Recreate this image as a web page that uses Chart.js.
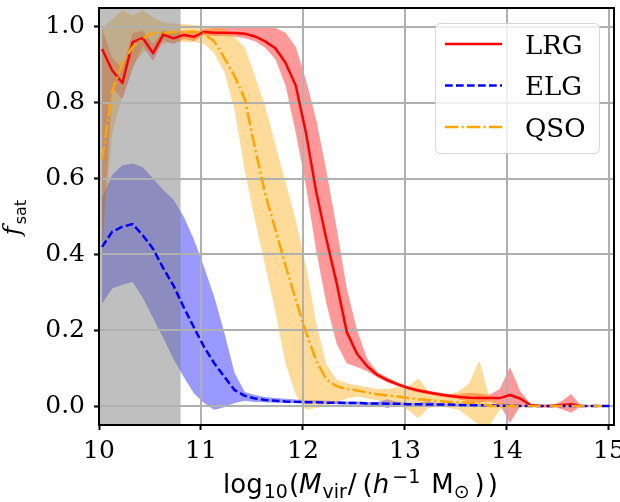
<!DOCTYPE html>
<html lang="en">
<head>
<meta charset="UTF-8">
<title>Satellite fraction vs halo mass</title>
<script src="https://cdn.jsdelivr.net/npm/chart.js"></script>
<style>
    body { margin: 0; background: #fff; }
</style>
</head>
<body>
<canvas id="fsatChart" width="620" height="502"></canvas>
<script>
// bin centres in log10(Mvir / (h^-1 Msun))
const massBins = [
    10.03, 10.13, 10.23, 10.33, 10.43, 10.53, 10.63, 10.73, 10.83, 10.93,
    11.03, 11.13, 11.23, 11.33, 11.43, 11.53, 11.63, 11.73, 11.83, 11.93,
    12.03, 12.13, 12.23, 12.33, 12.43, 12.53, 12.63, 12.73, 12.83, 12.93,
    13.03, 13.13, 13.23, 13.33, 13.43, 13.53, 13.63, 13.73, 13.83, 13.93,
    14.03, 14.13, 14.23, 14.33, 14.43, 14.53, 14.63, 14.73, 14.83, 14.93,
    15.03
];

// LRG: median and band
const lrgSat = [
    0.942, 0.885, 0.852, 0.960, 0.971, 0.931, 0.980, 0.970, 0.979, 0.974,
    0.987, 0.985, 0.985, 0.984, 0.982, 0.975, 0.962, 0.944, 0.905, 0.845,
    0.720, 0.565, 0.440, 0.325, 0.195, 0.138, 0.105, 0.082, 0.068, 0.057,
    0.048, 0.041, 0.036, 0.031, 0.027, 0.024, 0.022, 0.021, 0.021, 0.021,
    0.029, 0.020, 0.003, 0.000, 0.000, 0.003, 0.005, 0.000, null, null,
    null
];
const lrgLow = [
    0.40, 0.84, 0.81, 0.89, 0.95, 0.91, 0.965, 0.955, 0.968, 0.962,
    0.978, 0.976, 0.976, 0.974, 0.970, 0.962, 0.945, 0.915, 0.845, 0.72,
    0.58, 0.41, 0.27, 0.165, 0.112, 0.103, 0.092, 0.075, 0.062, 0.052,
    0.043, 0.036, 0.031, 0.026, 0.022, 0.018, 0.012, 0.010, 0.012, 0.005,
    -0.045, 0.000, 0.000, 0.000, 0.000, -0.008, -0.018, 0.000, null, null,
    null
];
const lrgHigh = [
    0.995, 0.92, 0.89, 0.985, 0.99, 0.955, 0.992, 0.985, 0.99, 0.985,
    0.995, 0.997, 0.997, 0.998, 0.998, 0.998, 0.998, 0.997, 0.985, 0.947,
    0.86, 0.755, 0.62, 0.47, 0.31, 0.20, 0.125, 0.09, 0.075, 0.063,
    0.053, 0.046, 0.041, 0.036, 0.032, 0.032, 0.035, 0.033, 0.030, 0.045,
    0.103, 0.040, 0.006, 0.000, 0.000, 0.012, 0.032, 0.000, null, null,
    null
];

// ELG
const elgSat = [
    0.42, 0.46, 0.473, 0.48, 0.45, 0.415, 0.364, 0.318, 0.261, 0.208,
    0.156, 0.113, 0.077, 0.042, 0.027, 0.020, 0.016, 0.014, 0.012, 0.011,
    0.010, 0.010, 0.009, 0.009, 0.008, 0.008, 0.007, 0.007, 0.006, 0.006,
    0.005, 0.005, 0.004, 0.004, 0.004, 0.003, 0.003, 0.002, 0.002, 0.001,
    0.001, 0.000, 0.000, 0.000, 0.000, 0.000, 0.000, 0.000, 0.000, 0.000,
    0.000
];
const elgLow = [
    0.27, 0.31, 0.32, 0.327, 0.285, 0.232, 0.18, 0.125, 0.077, 0.034,
    0.008, -0.010, -0.003, 0.008, 0.014, 0.011, 0.010, 0.009, 0.008, 0.008,
    0.007, 0.007, 0.006, 0.005, 0.004, 0.004, 0.003, 0.003, -0.005, 0.003,
    0.002, 0.002, -0.003, 0.002, 0.001, 0.001, 0.001, 0.000, 0.000, 0.000,
    0.000, 0.000, 0.000, 0.000, 0.000, 0.000, 0.000, 0.000, 0.000, 0.000,
    0.000
];
const elgHigh = [
    0.55, 0.61, 0.635, 0.64, 0.63, 0.60, 0.57, 0.545, 0.50, 0.44,
    0.367, 0.288, 0.193, 0.087, 0.037, 0.029, 0.024, 0.021, 0.019, 0.017,
    0.016, 0.015, 0.014, 0.013, 0.012, 0.012, 0.011, 0.011, 0.018, 0.010,
    0.009, 0.009, 0.013, 0.007, 0.007, 0.006, 0.005, 0.004, 0.004, 0.003,
    0.002, 0.000, 0.000, 0.000, 0.000, 0.000, 0.000, 0.000, 0.000, 0.000,
    0.000
];

// QSO
const qsoSat = [
    0.65, 0.83, 0.905, 0.947, 0.970, 0.984, 0.984, 0.986, 0.987, 0.988,
    0.982, 0.962, 0.918, 0.870, 0.810, 0.680, 0.560, 0.465, 0.370, 0.280,
    0.195, 0.120, 0.070, 0.052, 0.045, 0.041, 0.036, 0.031, 0.028, 0.025,
    0.021, 0.018, 0.016, 0.013, 0.011, 0.010, 0.009, 0.007, 0.000, 0.000,
    0.000, 0.000, 0.000, 0.000, 0.000, 0.000, 0.000, 0.000, 0.000, 0.000,
    null
];
const qsoLow = [
    0.40, 0.72, 0.82, 0.90, 0.93, 0.95, 0.955, 0.96, 0.96, 0.96,
    0.955, 0.93, 0.88, 0.78, 0.62, 0.49, 0.37, 0.25, 0.11, 0.03,
    -0.010, -0.005, 0.000, 0.010, 0.020, 0.025, 0.020, 0.015, 0.010, 0.005,
    -0.010, -0.032, -0.005, 0.000, -0.005, -0.010, -0.030, -0.050, -0.050, -0.010,
    0.000, 0.000, 0.000, 0.000, 0.000, 0.000, 0.000, 0.000, 0.000, 0.000,
    null
];
const qsoHigh = [
    0.997, 1.02, 1.045, 1.03, 1.045, 1.025, 1.012, 1.009, 1.008, 1.005,
    1.003, 1.000, 0.995, 0.974, 0.945, 0.87, 0.79, 0.69, 0.59, 0.49,
    0.37, 0.22, 0.11, 0.07, 0.06, 0.055, 0.05, 0.045, 0.045, 0.05,
    0.05, 0.074, 0.04, 0.035, 0.03, 0.04, 0.06, 0.121, 0.02, 0.01,
    0.005, 0.000, 0.000, 0.000, 0.000, 0.000, 0.000, 0.000, 0.000, 0.000,
    null
];

const tracers = ['LRG', 'ELG', 'QSO'];
const xTicks = [10, 11, 12, 13, 14, 15];
const yTicks = [0.0, 0.2, 0.4, 0.6, 0.8, 1.0];
const xRange = [10, 15.05];
const yRange = [-0.05, 1.05];
const shadedRange = [10, 10.8];   // resolution limit

function pts(vals) {
    return massBins.map((m, i) => ({x: m, y: vals[i]}));
}

const lineStyle = {
    LRG: {color: '#ff0000', dash: []},
    ELG: {color: '#0000ff', dash: [7.7, 3.3]},
    QSO: {color: '#ffa500', dash: [13.3, 3.3, 2.1, 3.3]}
};
const bandColor = {
    LRG: 'rgba(255,0,0,0.4)',
    ELG: 'rgba(0,0,255,0.4)',
    QSO: 'rgba(255,165,0,0.4)'
};

function band(name, lo, hi, order) {
    const base = {pointRadius: 0, borderWidth: 0, borderColor: 'rgba(0,0,0,0)', order: order};
    return [
        Object.assign({label: name + ' hi', data: pts(hi), fill: false}, base),
        Object.assign({label: name + ' lo', data: pts(lo), fill: '-1', backgroundColor: bandColor[name]}, base)
    ];
}

function line(name, vals, order) {
    return {
        label: name,
        data: pts(vals),
        borderColor: lineStyle[name].color,
        borderDash: lineStyle[name].dash,
        borderWidth: 2.5,
        borderJoinStyle: 'round',
        pointRadius: 0,
        fill: false,
        order: order
    };
}

const datasets = [].concat(
    band('LRG', lrgLow, lrgHigh, 10),
    band('ELG', elgLow, elgHigh, 9),
    band('QSO', qsoLow, qsoHigh, 8),
    [line('LRG', lrgSat, 3), line('ELG', elgSat, 2), line('QSO', qsoSat, 1)]
);

function drawRuns(ctx, runs, x, y) {
    let cx = x;
    runs.forEach(r => {
        cx += r.gap || 0;
        ctx.font = r.font;
        ctx.fillText(r.text, cx, y + (r.dy || 0));
        cx += ctx.measureText(r.text).width;
    });
}
function runsWidth(ctx, runs) {
    let w = 0;
    runs.forEach(r => { ctx.font = r.font; w += (r.gap || 0) + ctx.measureText(r.text).width; });
    return w;
}

const big = '26px "DejaVu Sans"';
const ital = 'italic 26px "DejaVu Sans"';
const small = '19px "DejaVu Sans"';
const xTitle = [
    {text: 'log', font: big},
    {text: '10', font: small, dy: 5, gap: 1},
    {text: '(', font: big, gap: 1},
    {text: 'M', font: ital},
    {text: 'vir', font: small, dy: 5, gap: 1},
    {text: '/', font: big, gap: 1},
    {text: '(', font: big, gap: 6},
    {text: 'h', font: ital},
    {text: '\u22121', font: small, dy: -10, gap: 3},
    {text: 'M', font: big, gap: 11},
    {text: '\u2299', font: small, dy: 5},
    {text: ')', font: big, gap: 5},
    {text: ')', font: big, gap: 3}
];
const yTitle = [
    {text: 'f', font: 'italic 24px "DejaVu Serif"'},
    {text: 'sat', font: '16px "DejaVu Sans"', dy: 6, gap: 2}
];

const decorations = {
    id: 'decorations',
    beforeDatasetsDraw(chart) {
        const {ctx, chartArea: a, scales: {x, y}} = chart;
        ctx.save();
        const x0 = x.getPixelForValue(shadedRange[0]);
        const x1 = x.getPixelForValue(shadedRange[1]);
        ctx.fillStyle = 'rgba(128,128,128,0.5)';
        ctx.fillRect(x0, a.top, x1 - x0, a.bottom - a.top);
        // grid sits above the bands but under the lines
        ctx.strokeStyle = '#b0b0b0';
        ctx.lineWidth = 2;
        ctx.beginPath();
        xTicks.forEach(v => {
            const px = Math.round(x.getPixelForValue(v));
            ctx.moveTo(px, a.top); ctx.lineTo(px, a.bottom);
        });
        yTicks.forEach(v => {
            const py = Math.round(y.getPixelForValue(v));
            ctx.moveTo(a.left, py); ctx.lineTo(a.right, py);
        });
        ctx.stroke();
        ctx.restore();
    },
    afterDatasetsDraw(chart) {
        const {ctx, chartArea: a} = chart;
        ctx.save();
        ctx.strokeStyle = '#000';
        ctx.lineWidth = 2;
        ctx.strokeRect(a.left, a.top, a.right - a.left, a.bottom - a.top);

        // legend
        const bx = 435, by = 23, bw = 164, bh = 130;
        ctx.fillStyle = 'rgba(255,255,255,0.8)';
        ctx.strokeStyle = 'rgba(204,204,204,0.8)';
        ctx.lineWidth = 1;
        ctx.beginPath();
        ctx.roundRect(bx + 0.5, by + 0.5, bw, bh, 5);
        ctx.fill();
        ctx.stroke();
        ctx.font = '26px "DejaVu Serif"';
        ctx.textBaseline = 'alphabetic';
        tracers.forEach((name, i) => {
            const cy = 44 + i * 41.5;
            ctx.strokeStyle = lineStyle[name].color;
            ctx.setLineDash(lineStyle[name].dash);
            ctx.lineWidth = 2.5;
            ctx.beginPath();
            ctx.moveTo(445, cy); ctx.lineTo(502, cy);
            ctx.stroke();
            ctx.setLineDash([]);
            ctx.fillStyle = '#000';
            ctx.fillText(name, 525, cy + 9.5);
        });
        ctx.restore();
    },
    afterDraw(chart) {
        const {ctx, chartArea: a} = chart;
        ctx.save();
        ctx.fillStyle = '#000';
        ctx.textBaseline = 'alphabetic';
        const cx = (a.left + a.right) / 2 + 4;
        drawRuns(ctx, xTitle, cx - runsWidth(ctx, xTitle) / 2, 493);
        const cy = (a.top + a.bottom) / 2 + 1;
        ctx.translate(20, cy);
        ctx.rotate(-Math.PI / 2);
        drawRuns(ctx, yTitle, -runsWidth(ctx, yTitle) / 2, 0);
        ctx.restore();
    }
};

const tickFont = {family: 'DejaVu Serif', size: 25};
const axisGrid = {display: true, drawOnChartArea: false, drawTicks: true, tickLength: 5, tickWidth: 2, tickColor: '#000'};

new Chart(document.getElementById('fsatChart'), {
    type: 'line',
    data: {datasets: datasets},
    options: {
        responsive: false,
        animation: false,
        layout: {padding: {top: 8, right: 6, left: 0, bottom: 0}},
        plugins: {
            legend: {display: false},
            tooltip: {enabled: false},
            filler: {drawTime: 'beforeDatasetsDraw'}
        },
        scales: {
            x: {
                type: 'linear',
                min: xRange[0],
                max: xRange[1],
                afterBuildTicks: s => { s.ticks = xTicks.map(v => ({value: v})); },
                afterFit: s => { s.height = 77; s.paddingLeft = 0; s.paddingRight = 0; },
                ticks: {font: tickFont, color: '#000', padding: 6, maxRotation: 0, autoSkip: false,
                        callback: v => String(v)},
                grid: axisGrid,
                border: {display: false}
            },
            y: {
                type: 'linear',
                min: yRange[0],
                max: yRange[1],
                afterBuildTicks: s => { s.ticks = yTicks.map(v => ({value: v})); },
                afterFit: s => { s.width = 99; s.paddingTop = 0; s.paddingBottom = 0; },
                ticks: {font: tickFont, color: '#000', padding: 9, autoSkip: false,
                        callback: v => v.toFixed(1)},
                grid: axisGrid,
                border: {display: false}
            }
        }
    },
    plugins: [decorations]
});
</script>
</body>
</html>
